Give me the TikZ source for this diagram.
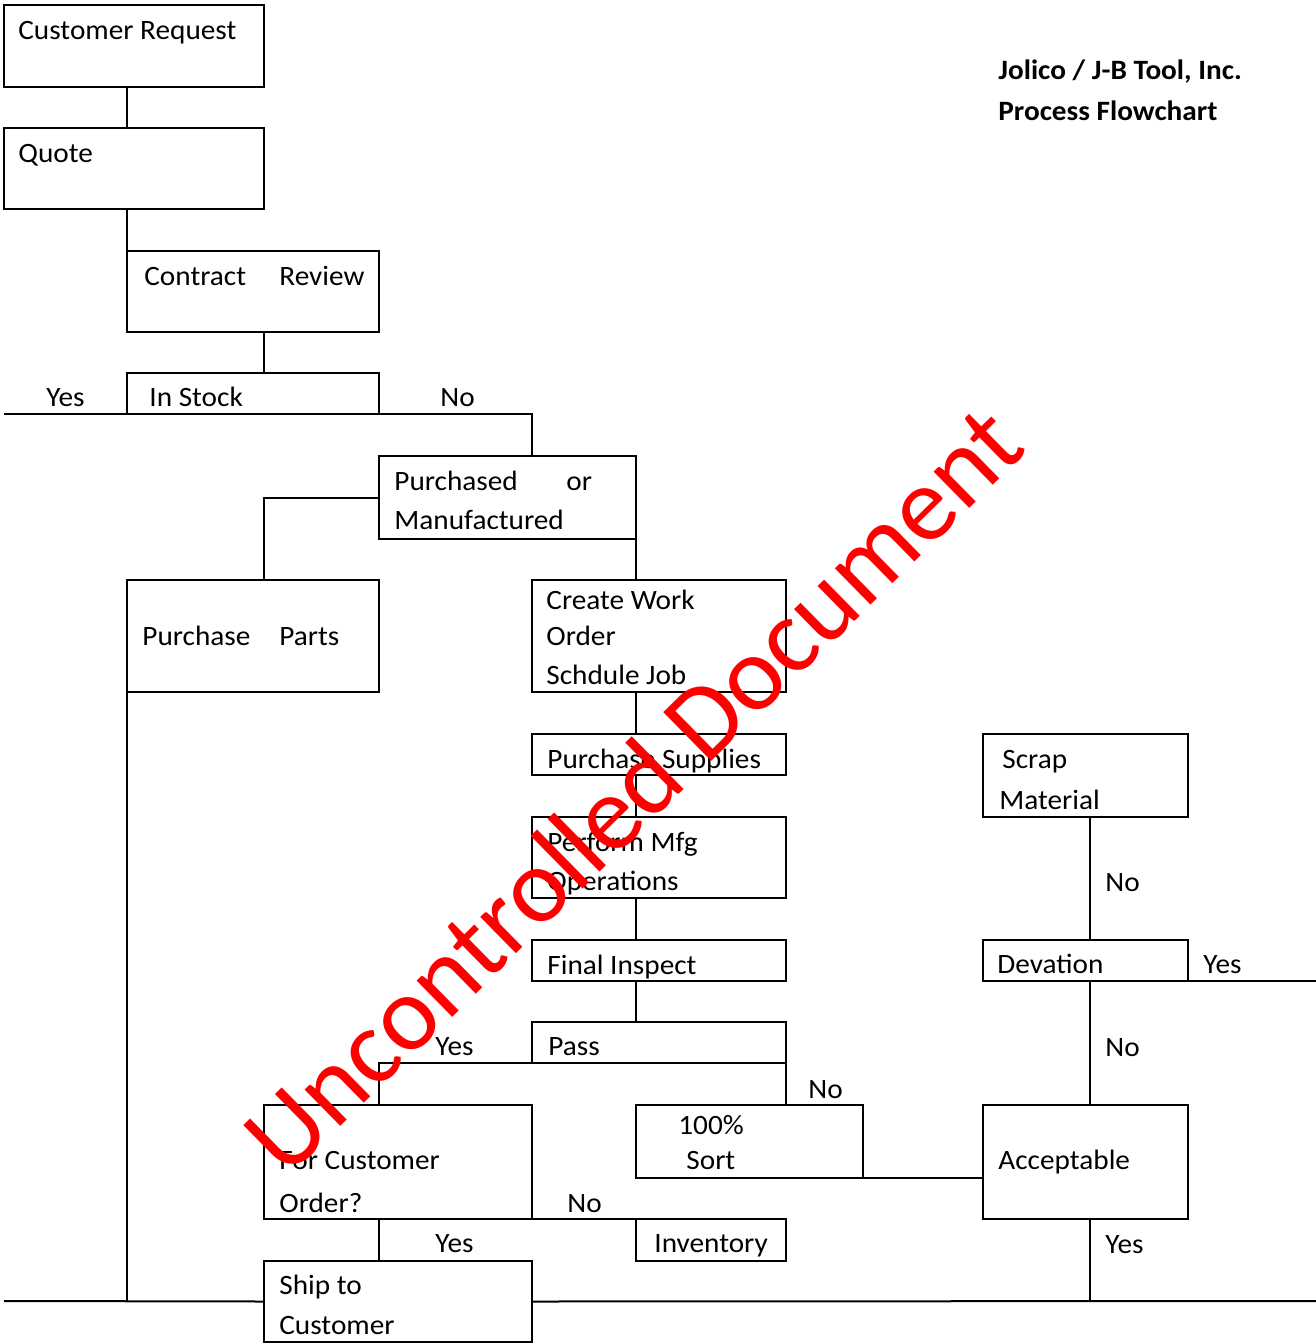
\documentclass[tikz,border=0pt]{standalone}
\usepackage{fontspec}
\setmainfont{Carlito}[FakeStretch=1.045]
\newfontfamily\stampfont{Carlito}
\usetikzlibrary{fit}

\begin{document}
\begin{tikzpicture}[x=0.5pt,y=-0.5pt,
  box/.style={draw, line width=1pt, inner sep=0pt, outer sep=0pt},
  lbl/.style={anchor=base west, inner sep=0pt, yshift=-0.75pt,
              font=\fontsize{14}{17}\selectfont},
  ttl/.style={lbl, font=\fontsize{14}{17}\selectfont\bfseries},
  wire/.style={line width=1pt},
  stamp/.style={text=red, inner sep=0pt, anchor=base, rotate=44.5,
                font=\stampfont\fontsize{53.3}{60}\selectfont}]
\useasboundingbox (0,0) rectangle (1316,1343);

% column guides for the vertical connectors
\coordinate (colA) at (127,0);
\coordinate (colB) at (264,0);
\coordinate (colC) at (379,0);
\coordinate (colD) at (532,0);
\coordinate (colE) at (636,0);
\coordinate (colF) at (1090,0);
% free ends of the open branches
\coordinate (stockYes) at (4,414);
\coordinate (shipL) at (4,1301);
\coordinate (shipR) at (1316,1301);
\coordinate (devYes) at (1316,981);

% process boxes
\node[box, fit={(4,5) (264,87)}] (cr) {};
\node[box, fit={(4,128) (264,209)}] (qt) {};
\node[box, fit={(127,251) (379,332)}] (crv) {};
\node[box, fit={(127,373) (379,414)}] (ins) {};
\node[box, fit={(379,456) (636,539)}] (pm) {};
\node[box, fit={(127,580) (379,692)}] (pp) {};
\node[box, fit={(532,580) (786,692)}] (cwo) {};
\node[box, fit={(532,734) (786,775)}] (ps) {};
\node[box, fit={(532,817) (786,898)}] (pmo) {};
\node[box, fit={(532,940) (786,981)}] (fi) {};
\node[box, fit={(532,1022) (786,1063)}] (pass) {};
\node[box, fit={(264,1105) (532,1219)}] (fco) {};
\node[box, fit={(636,1105) (863,1178)}] (sort) {};
\node[box, fit={(636,1219) (786,1261)}] (inv) {};
\node[box, fit={(264,1261) (532,1342)}] (ship) {};
\node[box, fit={(983,734) (1188,817)}] (scrap) {};
\node[box, fit={(983,940) (1188,981)}] (dev) {};
\node[box, fit={(983,1105) (1188,1219)}] (acc) {};

% connectors
\draw[wire] (cr.south -| colA) -- (qt.north -| colA);
\draw[wire] (qt.south -| colA) -- (crv.north west);
\draw[wire] (crv.south -| colB) -- (ins.north -| colB);
\draw[wire] (ins.south west) -- (stockYes);
\draw[wire] (ins.south east) -| (pm.north -| colD);
\draw[wire] (pm.west) -| (pp.north -| colB);
\draw[wire] (pm.south east) -- (cwo.north -| colE);
\draw[wire] (pp.south west) -- (pp.south west |- shipL);
\draw[wire] (cwo.south -| colE) -- (ps.north -| colE);
\draw[wire] (ps.south -| colE) -- (pmo.north -| colE);
\draw[wire] (pmo.south -| colE) -- (fi.north -| colE);
\draw[wire] (fi.south -| colE) -- (pass.north -| colE);
\draw[wire] (pass.south west) -| (fco.north -| colC);
\draw[wire] (pass.south east) -- (sort.north -| pass.east);
\draw[wire] (sort.south east) -- (sort.south -| acc.west);
\draw[wire] (fco.south east) -- (inv.north west);
\draw[wire] (fco.south -| colC) -- (ship.north -| colC);
\draw[wire] (shipL) -- (ship.west);
\draw[wire] (ship.east) -- (shipR);
\draw[wire] (scrap.south -| colF) -- (dev.north -| colF);
\draw[wire] (dev.south -| colF) -- (acc.north -| colF);
\draw[wire] (dev.south east) -- (devYes);
\draw[wire] (acc.south -| colF) -- (shipR -| colF);

% box texts
\node[lbl] (tCr) at (18,38) {Customer Request};
\node[lbl] (tQt) at (18,161) {Quote};
\node[lbl] (tCrv1) at (144,284) {Contract};
\node[lbl] (tCrv2) at (279,284) {Review};
\node[lbl] (tIns) at (149,405) {In Stock};
\node[lbl] (tPm1) at (394,489) {Purchased};
\node[lbl] (tPm2) at (566,489) {or};
\node[lbl] (tPm3) at (394,528) {Manufactured};
\node[lbl] (tPp1) at (142,644) {Purchase};
\node[lbl] (tPp2) at (279,644) {Parts};
\node[lbl] (tCwo1) at (546,608) {Create Work};
\node[lbl] (tCwo2) at (546,644) {Order};
\node[lbl] (tCwo3) at (546,683) {Schdule Job};
\node[lbl] (tPs) at (547,767) {Purchase Supplies};
\node[lbl] (tPmo1) at (547,850) {Perform Mfg};
\node[lbl] (tPmo2) at (547,889) {Operations};
\node[lbl] (tFi) at (547,973) {Final Inspect};
\node[lbl] (tPass) at (548,1054) {Pass};
\node[lbl] (tSort1) at (678,1133) {100\%};
\node[lbl] (tSort2) at (686,1168) {Sort};
\node[lbl] (tFco1) at (279,1168) {For Customer};
\node[lbl] (tFco2) at (279,1211) {Order?};
\node[lbl] (tInv) at (654,1251) {Inventory};
\node[lbl] (tShip1) at (279,1293) {Ship to};
\node[lbl] (tShip2) at (279,1333) {Customer};
\node[lbl] (tScrap1) at (1002,767) {Scrap};
\node[lbl] (tScrap2) at (999,808) {Material};
\node[lbl] (tDev) at (997,972) {Devation};
\node[lbl] (tAcc) at (998,1168) {Acceptable};

% branch labels
\node[lbl] (yStock) at (46,405) {Yes};
\node[lbl] (nStock) at (440,405) {No};
\node[lbl] (yPass) at (435,1054) {Yes};
\node[lbl] (nPass) at (808,1097) {No};
\node[lbl] (nFco) at (567,1211) {No};
\node[lbl] (yFco) at (435,1251) {Yes};
\node[lbl] (nScrap) at (1105,890) {No};
\node[lbl] (yDev) at (1203,972) {Yes};
\node[lbl] (nDev) at (1105,1055) {No};
\node[lbl] (yAcc) at (1105,1252) {Yes};

% heading
\node[ttl] (head1) at (998,78) {Jolico / J-B Tool, Inc.};
\node[ttl] (head2) at (998,119) {Process Flowchart};

% document status stamp across the chart
\node[stamp] (wm) at (658,815) {Uncontrolled Document};
\end{tikzpicture}
\end{document}
